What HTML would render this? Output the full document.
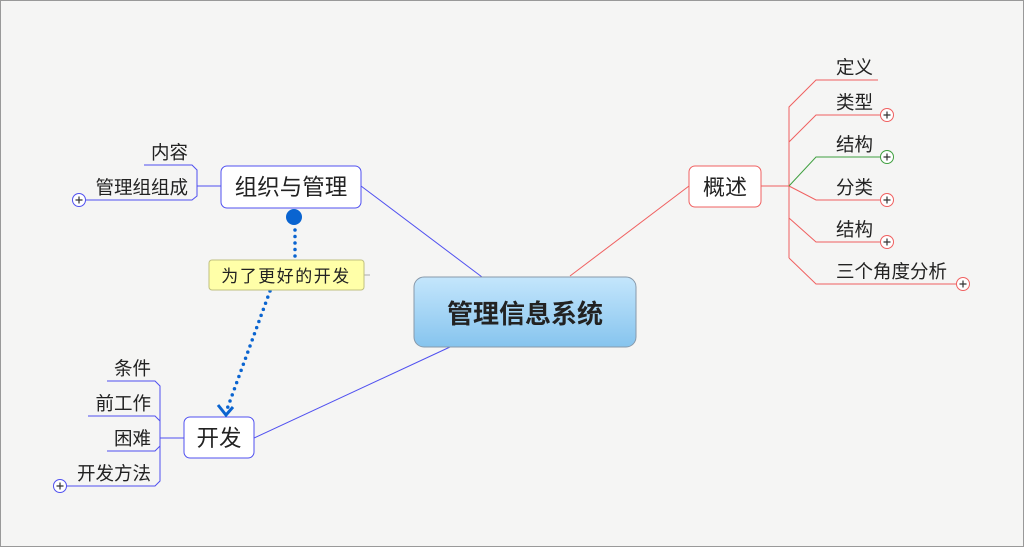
<!DOCTYPE html>
<html><head><meta charset="utf-8"><style>
body{margin:0;background:#fff}
svg{display:block;font-family:"Liberation Sans","Noto Sans CJK SC",sans-serif}
</style></head><body>
<svg width="1024" height="547" viewBox="0 0 1024 547">
<defs><linearGradient id="g" x1="0" y1="0" x2="0" y2="1"><stop offset="0" stop-color="#c4e6fc"/><stop offset="1" stop-color="#86c4ee"/></linearGradient></defs>
<rect x="0.5" y="0.5" width="1023" height="546" fill="#f5f5f4" stroke="#999"/>
<line x1="570" y1="276" x2="689" y2="186" stroke="#f06060"/>
<line x1="361" y1="186" x2="482" y2="277" stroke="#5050f0"/>
<line x1="254" y1="438" x2="450" y2="347" stroke="#5050f0"/>
<rect x="414" y="277" width="222" height="70" rx="10" fill="url(#g)" stroke="#8899aa"/>
<text x="525" y="323" font-size="26" font-weight="bold" text-anchor="middle" fill="#222">管理信息系统</text>
<g stroke="#f06060" fill="none">
<path d="M761 186H789"/>
<path d="M789 258V107L816 80H878"/>
<path d="M789 142L816 115H882"/>
<path d="M789 186L816 200H882"/>
<path d="M789 218L816 242H882"/>
<path d="M789 258L816 284H958"/>
<circle cx="887" cy="115" r="6.5" fill="#fff"/>
<circle cx="887" cy="200" r="6.5" fill="#fff"/>
<circle cx="887" cy="242" r="6.5" fill="#fff"/>
<circle cx="963" cy="284" r="6.5" fill="#fff"/>
</g>
<g stroke="#40a040" fill="none"><path d="M789 186L816 157H882"/><circle cx="887" cy="157" r="6.5" fill="#fff"/></g>
<g stroke="#333" stroke-width="1.2"><path d="M883.5 115h7M887 111.5v7M883.5 157h7M887 153.5v7M883.5 200h7M887 196.5v7M883.5 242h7M887 238.5v7M959.5 284h7M963 280.5v7"/></g>
<rect x="689" y="166" width="72" height="41" rx="6" fill="#fff" stroke="#f06060"/>
<text x="725" y="195" font-size="22" text-anchor="middle" fill="#222">概述</text>
<g font-size="18.5" fill="#222">
<text x="836" y="74">定义</text><text x="836" y="109">类型</text><text x="836" y="151">结构</text>
<text x="836" y="194">分类</text><text x="836" y="236">结构</text><text x="836" y="278">三个角度分析</text>
</g>
<g stroke="#5050f0" fill="none">
<path d="M197 186H221"/>
<path d="M144 165H192L197 170V196L192 200H85"/>
<circle cx="79" cy="200" r="6.5" fill="#fff"/>
<path d="M107 381H155L160 386V481L155 486H66"/>
<path d="M88 416H155L160 421"/><path d="M107 451H155L160 446"/>
<path d="M160 438H184"/>
<circle cx="60" cy="486" r="6.5" fill="#fff"/>
</g>
<g stroke="#333" stroke-width="1.2"><path d="M75.5 200h7M79 196.5v7M56.5 486h7M60 482.5v7"/></g>
<rect x="221" y="166" width="140" height="42" rx="6" fill="#fff" stroke="#5050f0"/>
<text x="291" y="195" font-size="22.5" text-anchor="middle" fill="#222">组织与管理</text>
<rect x="184" y="417" width="70" height="41" rx="6" fill="#fff" stroke="#5050f0"/>
<text x="219" y="446" font-size="22.5" text-anchor="middle" fill="#222">开发</text>
<g font-size="18.5" fill="#222" text-anchor="end">
<text x="188" y="159">内容</text><text x="188" y="194">管理组组成</text>
<text x="151" y="375">条件</text><text x="151" y="410">前工作</text><text x="151" y="445">困难</text><text x="151" y="480">开发方法</text>
</g>
<circle cx="294" cy="217" r="8" fill="#0a64d0"/>
<g stroke="#0a64d0" stroke-width="3.5" stroke-linecap="round" stroke-dasharray="0 6.5" fill="none">
<path d="M295 230V259"/><path d="M270 291L226 412"/>
</g>
<path d="M218 405L226 415L233 407" stroke="#0a64d0" stroke-width="3" fill="none"/>
<line x1="364" y1="275" x2="370" y2="275" stroke="#aaa"/>
<rect x="209" y="260" width="155" height="30" rx="3" fill="#ffffa8" stroke="#c0c080"/>
<text x="286" y="282" font-size="17" text-anchor="middle" fill="#222" letter-spacing="1.5">为了更好的开发</text>
</svg>
</body></html>
